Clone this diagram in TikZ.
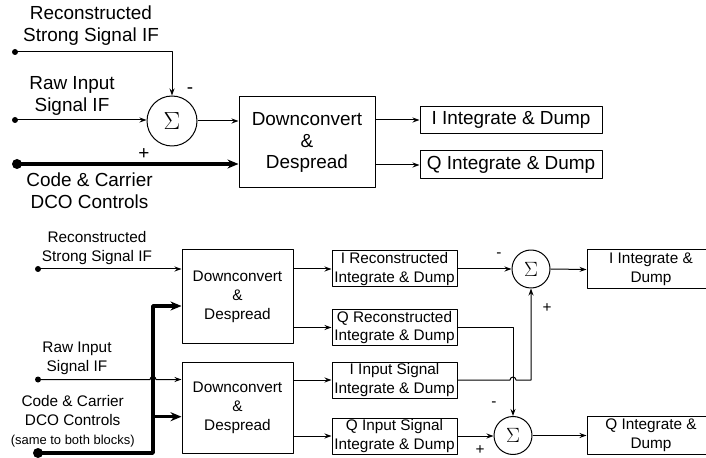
\documentclass[tikz,border=0pt]{standalone}
\usepackage{fontspec}
\setmainfont{Liberation Sans}
\usetikzlibrary{arrows.meta,calc}
\begin{document}
\begin{tikzpicture}[x=1bp,y=-1bp,line join=round,>={Stealth[length=7bp,width=5bp]},
  big/.style={font=\fontsize{19}{22}\selectfont},
  small/.style={font=\fontsize{15.4}{19}\selectfont},
  blk/.style={draw,line width=1bp,inner sep=0pt,align=center},
  sumnode/.style={draw,circle,line width=1bp,inner sep=0pt},
  dot/.style={circle,fill,inner sep=0pt,minimum size=6bp},
  bigdot/.style={circle,fill,inner sep=0pt,minimum size=10bp},
  sig/.style={line width=1bp},
  bus/.style={line width=3.5bp,>={Stealth[length=11bp,width=9bp]}}]
\useasboundingbox (0,0) rectangle (706,458);
% upper diagram
\node[big,align=center] (lRecA) at (91,26) {Reconstructed\\Strong Signal IF};
\node[big,align=center] (lRawA) at (72,96) {Raw Input\\Signal IF};
\node[big,align=center] (lCtlA) at (89.5,191) {Code \& Carrier\\DCO Controls};
\node[dot] (recA) at (15,52) {};
\node[dot] (rawA) at (15,120) {};
\node[bigdot] (ctlA) at (17,164) {};
\node[sumnode,minimum size=50bp] (sumA) at (172,121) {\fontsize{26}{26}\selectfont$\Sigma$};
\node[big] (mA) at (190,91) {-};
\node[big] (pA) at (144,154) {+};
\node[blk,big,minimum width=136bp,minimum height=91bp] (boxA) at (307,142.5) {Downconvert\\\&\\Despread};
\node[blk,big,minimum width=182bp,minimum height=27bp] (iidA) at (511,120) {I Integrate \& Dump};
\node[blk,big,minimum width=182bp,minimum height=28bp] (qidA) at (511,165) {Q Integrate \& Dump};
\draw[sig,->] (recA.center) -| (sumA.north);
\draw[sig,->] (rawA.center) -- (rawA.center -| sumA.west);
\draw[sig,->] (sumA.east) -- (sumA.east -| boxA.west);
\draw[bus,->] (ctlA.center) -- (ctlA.center -| boxA.west);
\foreach \o in {iidA,qidA} \draw[sig,->] (boxA.east |- \o) -- (\o.west);
% lower diagram
\node[small,align=center] (lRecB) at (97,248) {Reconstructed\\Strong Signal IF};
\node[small,align=center] (lRawB) at (77,358.5) {Raw Input\\Signal IF};
\node[small,align=center] (lCtlB) at (72.7,421) {Code \& Carrier\\DCO Controls\\{\fontsize{13}{15}\selectfont(same to both blocks)}};
\node[dot] (recB) at (38,269) {};
\node[dot] (rawB) at (38,379.5) {};
\node[bigdot] (ctlB) at (38,453) {};
\node[blk,small,minimum width=111bp,minimum height=93bp] (dcR) at (237.5,296.5) {Downconvert\\\&\\Despread};
\node[blk,small,minimum width=111bp,minimum height=91bp] (dcS) at (237.5,407.5) {Downconvert\\\&\\Despread};
\foreach \n/\y/\t in {irec/269/I Reconstructed,qrec/327.5/Q Reconstructed,iin/380/I Input Signal,qin/436/Q Input Signal}
  \node[blk,small,minimum width=125bp,minimum height=36bp] (\n) at (394.5,\y) {\t\\Integrate \& Dump};
\node[sumnode,minimum size=38bp] (sumI) at (531,269) {\fontsize{20}{20}\selectfont$\Sigma$};
\node[sumnode,minimum size=38bp] (sumQ) at (513,435.5) {\fontsize{20}{20}\selectfont$\Sigma$};
\node[blk,small,minimum width=128bp,minimum height=39bp] (iout) at (651,269.5) {I Integrate \&\\Dump};
\node[blk,small,minimum width=128bp,minimum height=38bp] (qout) at (651,435) {Q Integrate \&\\Dump};
\node[small] (mI) at (499,255) {-};
\node[small] (pI) at (547,308) {+};
\node[small] (mQ) at (494,404) {-};
\node[small] (pQ) at (480,450) {+};
\coordinate (bend) at (153,453);
\coordinate (ctlR) at ($(dcR.west)+(0,9.5)$);
\coordinate (ctlS) at ($(dcS.west)+(0,9.2)$);
\draw[sig,->] (recB.center) -- (recB.center -| dcR.west);
\draw[sig,->] (rawB.center) -- ($(bend |- rawB)+(-3,0)$) arc (180:360:3) -- (rawB.center -| dcS.west);
\draw[bus,->] (ctlB.center) -- (bend) |- (ctlR);
\draw[bus,->] (bend |- ctlS) -- (ctlS);
\foreach \o in {irec,qrec} \draw[sig,->] (dcR.east |- \o) -- (\o.west);
\foreach \o in {iin,qin} \draw[sig,->] (dcS.east |- \o) -- (\o.west);
\draw[sig,->] (irec.east) -- (sumI.west);
\draw[sig,->] (qrec.east) -| (sumQ.north);
\draw[sig,->] (iin.east) -- ($(sumQ.north |- iin.east)+(-3,0)$) arc (180:360:3) -| (sumI.south);
\draw[sig,->] (qin.east) -- (qin.east -| sumQ.west);
\draw[sig,->] (sumI.east) -- (iout.west);
\draw[sig,->] (sumQ.east) -- (sumQ.east -| qout.west);
\end{tikzpicture}
\end{document}
